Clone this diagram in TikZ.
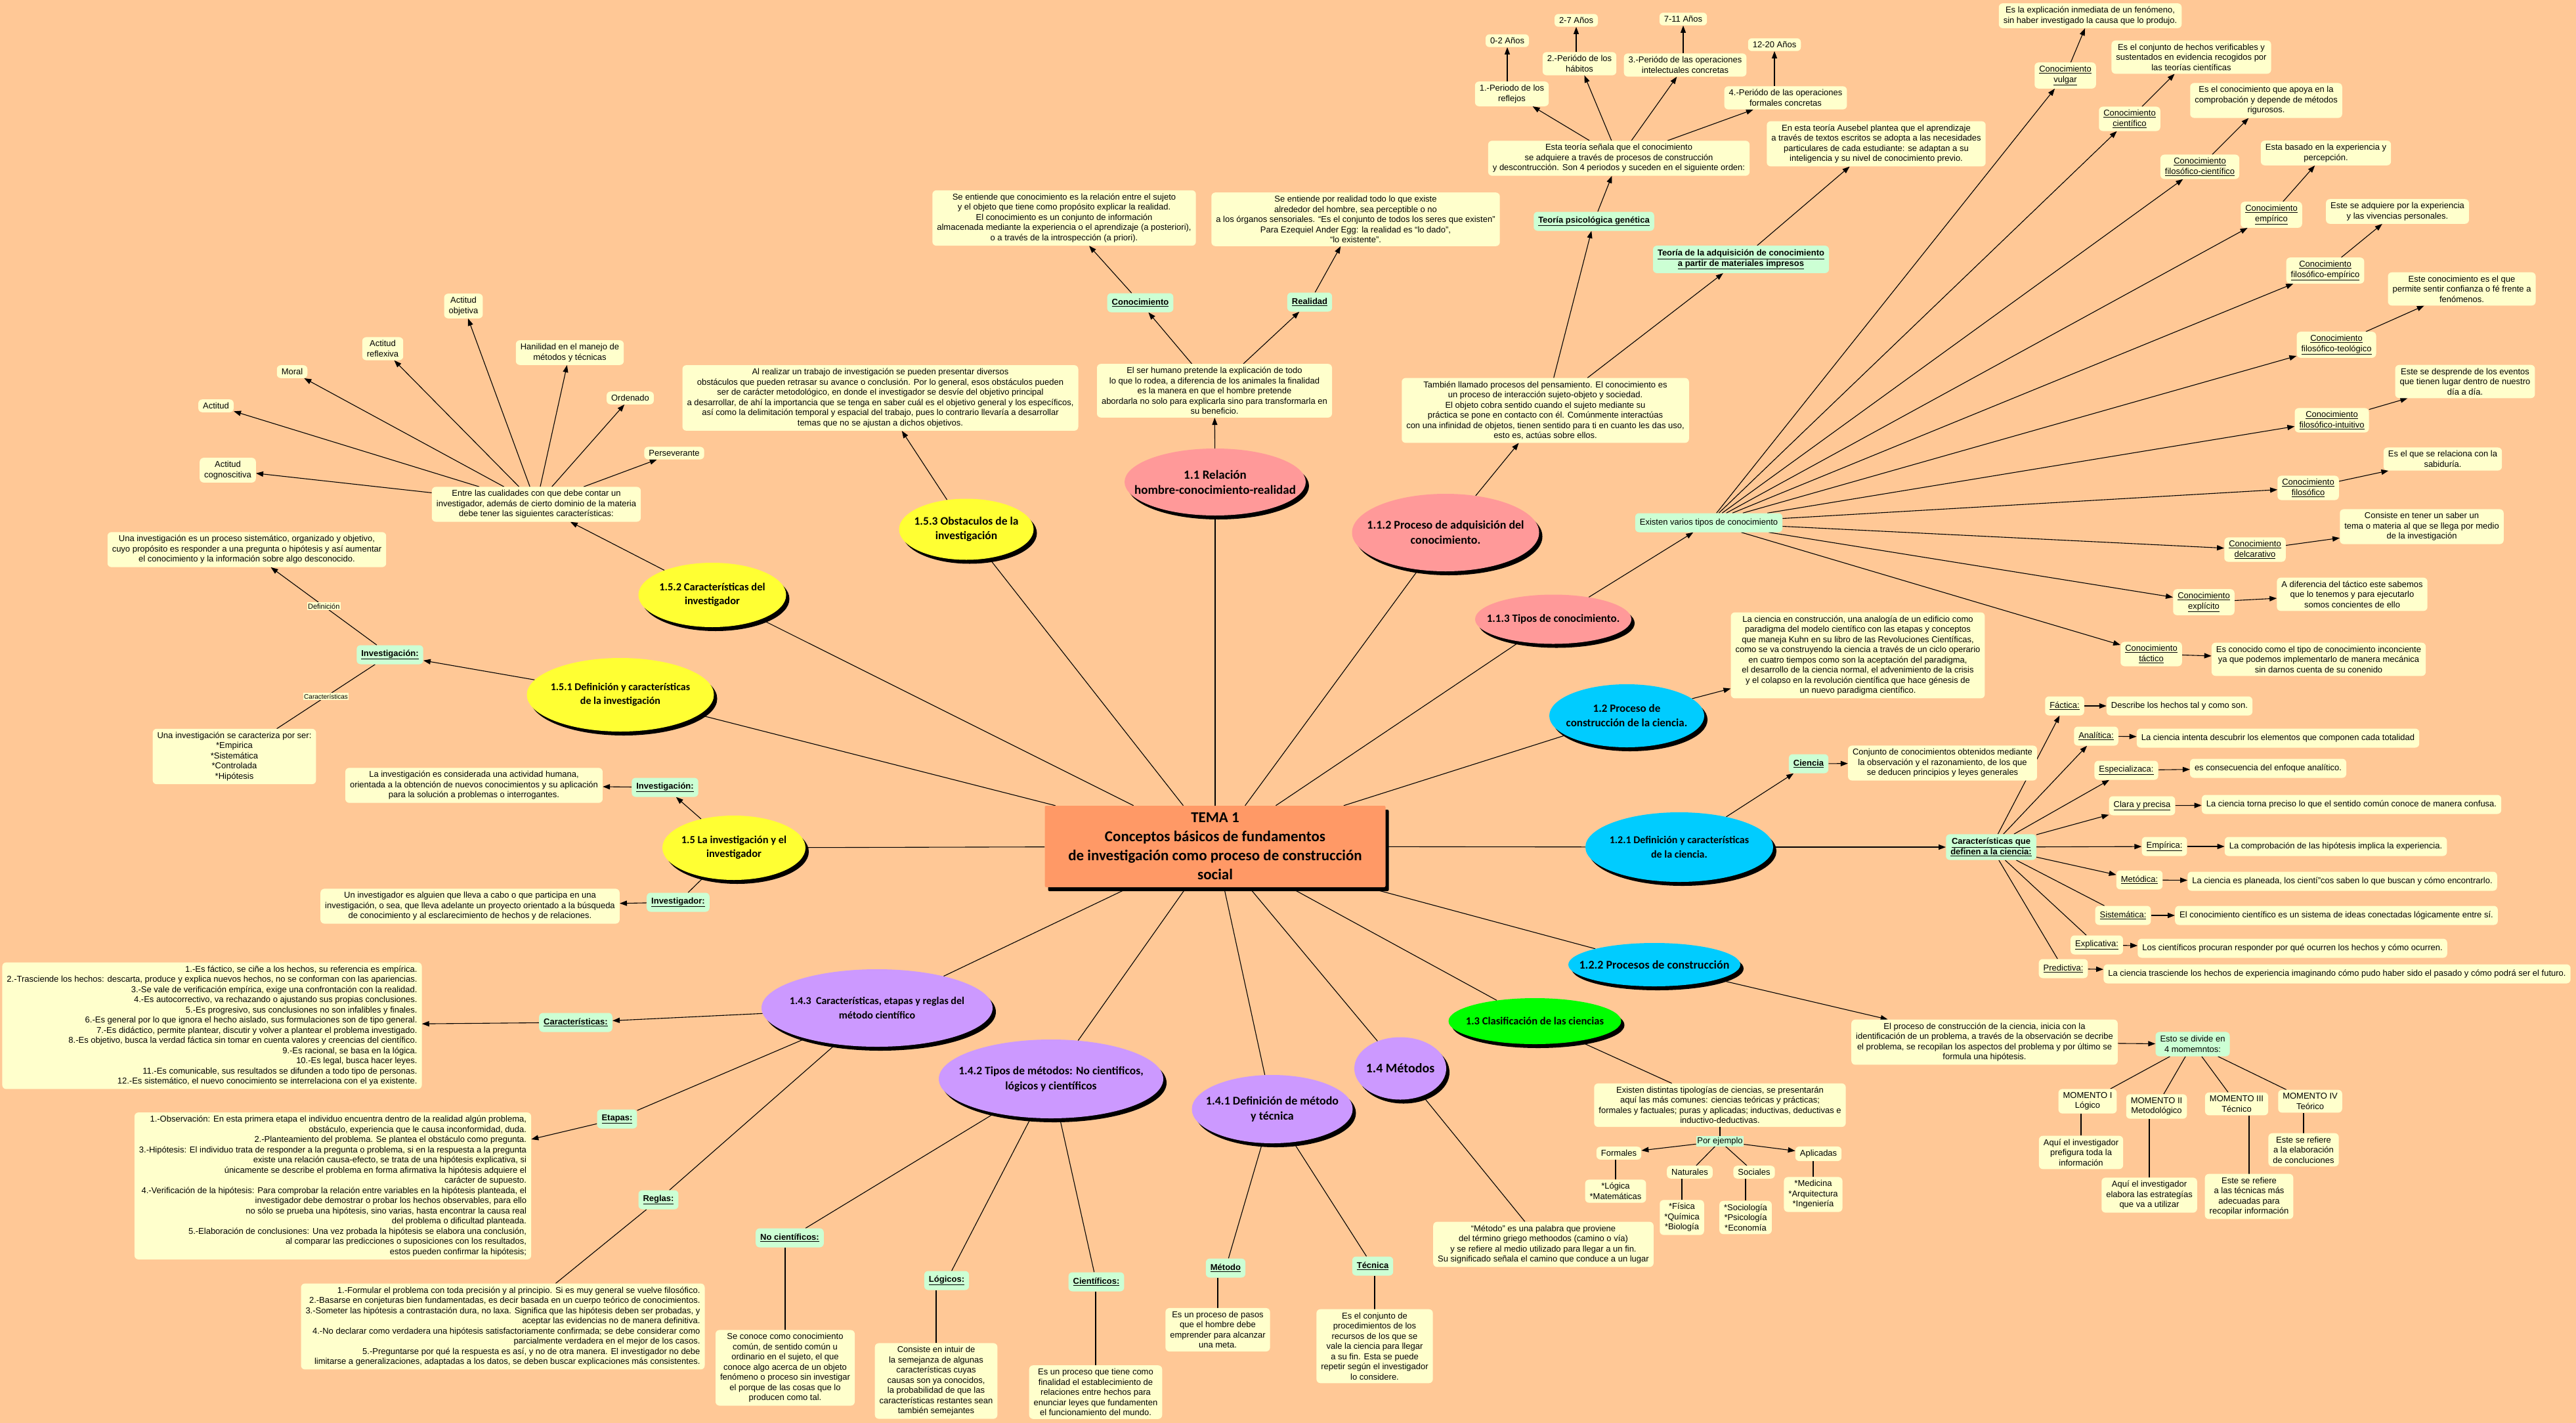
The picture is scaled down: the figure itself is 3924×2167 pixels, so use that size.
\documentclass[tikz,border=0pt]{standalone}
\usepackage{fontspec}
\setmainfont{Liberation Sans}
\newfontfamily\bubfont{Carlito}
\usetikzlibrary{arrows.meta,shapes.geometric,shadows}
\definecolor{bgpeach}{RGB}{255,200,150}
\definecolor{byellow}{RGB}{255,255,204}
\definecolor{bgreen}{RGB}{204,255,212}
\definecolor{bpink}{RGB}{255,153,153}
\definecolor{byel}{RGB}{255,255,51}
\definecolor{bcyan}{RGB}{0,204,255}
\definecolor{bgrn}{RGB}{0,255,0}
\definecolor{bviolet}{RGB}{204,153,255}
\definecolor{borange}{RGB}{255,153,102}
\newcommand{\myul}[1]{\underline{#1}}
\pgfdeclarelayer{bglayer}
\pgfdeclarelayer{edgelayer}
\pgfsetlayers{bglayer,edgelayer,main}
\tikzset{
 box/.style={fill=byellow, rounded corners=6pt, inner xsep=7pt, inner ysep=5pt, align=center, font=\fontsize{13}{15.5}\selectfont},
 rbox/.style={box, align=right},
 tbox/.style={box, minimum height=29pt},
 gbox/.style={fill=bgreen, rounded corners=6pt, inner xsep=7pt, inner ysep=6pt, minimum height=29pt, align=center, font=\bfseries\fontsize{13}{15.5}\selectfont},
 gplain/.style={gbox, font=\fontsize{13}{15.5}\selectfont},
 bubble/.style={ellipse, inner sep=0pt, drop shadow={shadow xshift=5pt,shadow yshift=-6pt,opacity=1,fill=black}},
 ln/.style={draw=black, line width=1.1pt},
 arr/.style={ln, -{Triangle[length=11pt,width=8pt]}},
 elab/.style={fill=byellow, inner sep=1.5pt, font=\fontsize{11}{12}\selectfont},
}
\newcommand{\mkbub}[8]{%
 \node[bubble, fill=#6, minimum width=#4pt, minimum height=#5pt] (#1) at (#2,#3) {};
 \node[align=center, font=\bubfont\bfseries\fontsize#7\selectfont] at (#1.center) {#8};}
\begin{document}
\begin{tikzpicture}[x=1pt,y=-1pt]
\begin{pgfonlayer}{bglayer}
\fill[bgpeach] (0,0) rectangle (3924,2167);
\end{pgfonlayer}
\useasboundingbox (0,0) rectangle (3924,2167);

% ---------- center ----------
\node[fill=borange, rounded corners=2pt, minimum width=519pt, minimum height=124pt, align=center,
 drop shadow={shadow xshift=5pt,shadow yshift=-6pt,opacity=1,fill=black},
 font=\bubfont\bfseries\fontsize{23}{29}\selectfont] (c) at (1851,1289)
 {TEMA 1\\Conceptos básicos de fundamentos\\de investigación como proceso de construcción\\social};

% ---------- 1.5.2 ----------
\node[box] (obj) at (706,466) {Actitud\\objetiva};
\node[box] (refl) at (583,531) {Actitud\\reflexiva};
\node[box] (moral) at (445,566) {Moral};
\node[box] (act) at (329,618) {Actitud};
\node[box] (hab) at (868,537) {Hanilidad en el manejo de\\métodos y técnicas};
\node[box] (ord) at (960,606) {Ordenado};
\node[box] (pers) at (1027,690) {Perseverante};
\node[box] (cog) at (347,716) {Actitud\\cognoscitiva};
\node[box] (entre) at (817,768) {Entre las cualidades con que debe contar un\\investigador, además de cierto dominio de la materia\\debe tener las siguientes características:};
\mkbub{b152}{1085}{906}{225}{98}{byel}{{16.5}{21}}{1.5.2 Características del\\investigador}

% ---------- 1.5.1 ----------
\node[box] (defi) at (376,837) {Una investigación es un proceso sistemático, organizado y objetivo,\\cuyo propósito es responder a una pregunta o hipótesis y así aumentar\\el conocimiento y la información sobre algo desconocido.};
\node[gbox] (inv1) at (594,997) {\myul{Investigación:}};
\node[box] (carac) at (357,1152) {Una investigación se caracteriza por ser:\\*Empirica\\*Sistemática\\*Controlada\\*Hipótesis};
\mkbub{b151}{945}{1058}{285}{112}{byel}{{16}{21}}{1.5.1 Definición y características\\de la investigación}

% ---------- 1.5 ----------
\node[box] (inv2t) at (722,1196) {La investigación es considerada una actividad humana,\\orientada a la obtención de nuevos conocimientos y su aplicación\\para la solución a problemas o interrogantes.};
\node[gbox] (inv2) at (1013,1199) {\myul{Investigación:}};
\mkbub{b15}{1118}{1291}{218}{98}{byel}{{16.5}{21}}{1.5 La investigación y el\\investigador}
\node[gbox] (invr) at (1033,1374) {\myul{Investigador:}};
\node[box] (invrt) at (716,1380) {Un investigador es alguien que lleva a cabo o que participa en una\\investigación, o sea, que lleva adelante un proyecto orientado a la búsqueda\\de conocimiento y al esclarecimiento de hechos y de relaciones.};

% ---------- 1.5.3 ----------
\node[box] (obs) at (1341,606) {Al realizar un trabajo de investigación se pueden presentar diversos\\obstáculos que pueden retrasar su avance o conclusión. Por lo general, esos obstáculos pueden\\ser de carácter metodológico, en donde el investigador se desvíe del objetivo principal\\a desarrollar, de ahí la importancia que se tenga en saber cuál es el objetivo general y los específicos,\\así como la delimitación temporal y espacial del trabajo, pues lo contrario llevaría a desarrollar\\temas que no se ajustan a dichos objetivos.};
\mkbub{b153}{1472}{806}{205}{93}{byel}{{17.5}{22}}{1.5.3 Obstaculos de la\\investigación}

% ---------- 1.1 ----------
\node[box] (conoct) at (1621,332) {Se entiende que conocimiento es la relación entre el sujeto\\y el objeto que tiene como propósito explicar la realidad.\\El conocimiento es un conjunto de información\\almacenada mediante la experiencia o el aprendizaje (a posteriori),\\o a través de la introspección (a priori).};
\node[gbox] (conoc) at (1737,461) {\myul{Conocimiento}};
\node[box] (realt) at (2065,334) {Se entiende por realidad todo lo que existe\\alrededor del hombre, sea perceptible o no\\a los órganos sensoriales. “Es el conjunto de todos los seres que existen”\\Para Ezequiel Ander Egg: la realidad es “lo dado”,\\“lo existente”.};
\node[gbox] (real) at (1995,460) {\myul{Realidad}};
\node[box] (ser) at (1850,595) {El ser humano pretende la explicación de todo\\lo que lo rodea, a diferencia de los animales la finalidad\\es la manera en que el hombre pretende\\abordarla no solo para explicarla sino para transformarla en\\su beneficio.};
\mkbub{b11}{1851}{734}{276}{102}{bpink}{{19}{23}}{1.1 Relación\\hombre-conocimiento-realidad}

% ---------- 1.1.2 ----------
\node[box] (y1) at (2296,62) {0-2 Años};
\node[box] (y2) at (2401,31) {2-7 Años};
\node[box] (y3) at (2564,29) {7-11 Años};
\node[box] (y4) at (2703,68) {12-20 Años};
\node[box] (p1) at (2303,143) {1.-Periodo de los\\reflejos};
\node[box] (p2) at (2406,97) {2.-Periódo de los\\hábitos};
\node[box] (p3) at (2567,99) {3.-Periódo de las operaciones\\intelectuales concretas};
\node[box] (p4) at (2720,149) {4.-Periódo de las operaciones\\formales concretas};
\node[box] (esta) at (2466,241) {Esta teoría señala que el conocimiento\\se adquiere a través de procesos de construcción\\y descontrucción. Son 4 periodos y suceden en el siguiente orden:};
\node[gbox] (tpg) at (2428,337) {\myul{Teoría psicológica genética}};
\node[gbox] (tad) at (2652,395) {\myul{Teoría de la adquisición de conocimiento}\\\myul{a partir de materiales impresos}};
\node[box] (aus) at (2858,219) {En esta teoría Ausebel plantea que el aprendizaje\\a través de textos escritos se adopta a las necesidades\\particulares de cada estudiante: se adaptan a su\\inteligencia y su nivel de conocimiento previo.};
\node[box] (tamb) at (2354,625) {También llamado procesos del pensamiento. El conocimiento es\\un proceso de interacción sujeto-objeto y sociedad.\\El objeto cobra sentido cuando el sujeto mediante su\\práctica se pone en contacto con él. Comúnmente interactúas\\con una infinidad de objetos, tienen sentido para ti en cuanto les das uso,\\esto es, actúas sobre ellos.};
\mkbub{b112}{2202}{811}{285}{118}{bpink}{{18}{23}}{1.1.2 Proceso de adquisición del\\conocimiento.}

% ---------- 1.1.3 ----------
\mkbub{b113}{2366}{943}{238}{75}{bpink}{{17}{21}}{1.1.3 Tipos de conocimiento.}
\node[gplain] (exist) at (2603,796) {Existen varios tipos de conocimiento};
\node[box] (t1) at (3146,115) {\myul{Conocimiento}\\\myul{vulgar}};
\node[box] (d1) at (3184,24) {Es la explicación inmediata de un fenómeno,\\sin haber investigado la causa que lo produjo.};
\node[box] (t2) at (3244,181) {\myul{Conocimiento}\\\myul{científico}};
\node[box] (d2) at (3338,87) {Es el conjunto de hechos verificables y\\sustentados en evidencia recogidos por\\las teorías científicas};
\node[box] (t3) at (3351,254) {\myul{Conocimiento}\\\myul{filosófico-científico}};
\node[box] (d3) at (3452,153) {Es el conocimiento que apoya en la\\comprobación y depende de métodos\\rigurosos.};
\node[box] (t4) at (3460,327) {\myul{Conocimiento}\\\myul{empírico}};
\node[box] (d4) at (3543,233) {Esta basado en la experiencia y\\percepción.};
\node[box] (t5) at (3542,412) {\myul{Conocimiento}\\\myul{filosófico-empírico}};
\node[box] (d5) at (3652,322) {Este se adquiere por la experiencia\\y las vivencias personales.};
\node[box] (t6) at (3559,525) {\myul{Conocimiento}\\\myul{filosófico-teológico}};
\node[box] (d6) at (3750,440) {Este conocimiento es el que\\permite sentir confianza o fé frente a\\fenómenos.};
\node[box] (t7) at (3552,640) {\myul{Conocimiento}\\\myul{filosófico-intuitivo}};
\node[box] (d7) at (3755,581) {Este se desprende de los eventos\\que tienen lugar dentro de nuestro\\día a día.};
\node[box] (t8) at (3516,743) {\myul{Conocimiento}\\\myul{filosófico}};
\node[box] (d8) at (3721,699) {Es el que se relaciona con la\\sabiduría.};
\node[box] (t9) at (3435,837) {\myul{Conocimiento}\\\myul{delcarativo}};
\node[box] (d9) at (3689,802) {Consiste en tener un saber un\\tema o materia al que se llega por medio\\de la investigación};
\node[box] (t10) at (3357,917) {\myul{Conocimiento}\\\myul{explícito}};
\node[box] (d10) at (3583,905) {A diferencia del táctico este sabemos\\que  lo tenemos y para ejecutarlo\\somos concientes de ello};
\node[box] (t11) at (3277,996) {\myul{Conocimiento}\\\myul{táctico}};
\node[box] (d11) at (3532,1004) {Es conocido como el tipo de conocimiento inconciente\\ya que podemos implementarlo de manera mecánica\\sin darnos cuenta de su conenido};

% ---------- 1.2 ----------
\mkbub{b12}{2478}{1090}{236}{96}{bcyan}{{17}{22}}{1.2 Proceso de\\construcción de la ciencia.}
\node[box] (kuhn) at (2830,998) {La ciencia en construcción, una analogía de un edificio como\\paradigma del modelo científico con las etapas y conceptos\\que maneja Kuhn en su libro de las Revoluciones Científicas,\\como se va construyendo la ciencia a través de un ciclo operario\\en cuatro tiempos como son la aceptación del paradigma,\\el desarrollo de la ciencia normal, el advenimiento de la crisis\\y el colapso en la revolución científica que hace génesis de\\un nuevo paradigma científico.};

% ---------- 1.2.1 ----------
\mkbub{b121}{2558}{1290}{286}{106}{bcyan}{{16}{22}}{1.2.1 Definición y características\\de la ciencia.}
\node[gbox] (cien) at (2755,1163) {\myul{Ciencia}};
\node[box] (conj) at (2959,1162) {Conjunto de conocimientos obtenidos mediante\\la observación y el razonamiento, de los que\\se deducen principios y leyes generales};
\node[gbox] (cdef) at (3033,1290) {\myul{Características que}\\\myul{definen a la ciencia:}};
\node[tbox] (f1) at (3145,1075) {\myul{Fáctica:}};
\node[tbox] (fd1) at (3320,1075) {Describe los hechos tal y como son.};
\node[tbox] (f2) at (3193,1121) {\myul{Analítica:}};
\node[tbox] (fd2) at (3470,1124) {La ciencia intenta descubrir los elementos que componen cada totalidad};
\node[tbox] (f3) at (3239,1173) {\myul{Especializaca:}};
\node[tbox] (fd3) at (3455,1170) {es consecuencia del enfoque analítico.};
\node[tbox] (f4) at (3263,1227) {\myul{Clara y precisa}};
\node[tbox] (fd4) at (3582,1225) {La ciencia torna preciso lo que el sentido común conoce de manera confusa.};
\node[tbox] (f5) at (3297,1289) {\myul{Empírica:}};
\node[tbox] (fd5) at (3558,1289) {La comprobación de las hipótesis implica la experiencia.};
\node[tbox] (f6) at (3259,1340) {\myul{Metódica:}};
\node[tbox] (fd6) at (3568,1342) {La ciencia es planeada, los cientí”cos saben lo que buscan y cómo encontrarlo.};
\node[tbox] (f7) at (3234,1394) {\myul{Sistemática:}};
\node[tbox] (fd7) at (3559,1394) {El conocimiento científico es un sistema de ideas conectadas lógicamente entre sí.};
\node[tbox] (f8) at (3194,1439) {\myul{Explicativa:}};
\node[tbox] (fd8) at (3492,1444) {Los científicos procuran responder por qué ocurren los hechos y cómo ocurren.};
\node[tbox] (f9) at (3143,1475) {\myul{Predictiva:}};
\node[tbox] (fd9) at (3560,1483) {La ciencia trasciende los hechos de experiencia imaginando cómo pudo haber sido el pasado y cómo podrá ser el futuro.};

% ---------- 1.2.2 ----------
\mkbub{b122}{2520}{1469}{262}{66}{bcyan}{{18}{22}}{1.2.2 Procesos de construcción}
\node[box] (proc) at (3023,1587) {El proceso de construcción de la ciencia, inicia con la\\identificación de un problema, a través de la observación se decribe\\el problema, se recopilan los aspectos del problema y por último se\\formula una hipótesis.};
\node[gplain] (esto) at (3340,1590) {Esto se divide en\\4 momemntos:};
\node[box] (m1) at (3180,1677) {MOMENTO I\\Lógico};
\node[box] (m2) at (3285,1685) {MOMENTO II\\Metodológico};
\node[box] (m3) at (3407,1681) {MOMENTO III\\Técnico};
\node[box] (m4) at (3519,1677) {MOMENTO IV\\Teórico};
\node[box] (md1) at (3170,1755) {Aquí el investigador\\prefigura toda la\\información};
\node[box] (md2) at (3274,1820) {Aquí el investigador\\elabora las estrategías\\que va a utilizar};
\node[box] (md3) at (3426,1822) {Este se refiere\\a las técnicas más\\adecuadas para\\recopilar información};
\node[box] (md4) at (3509,1751) {Este se refiere\\a la elaboración\\de concluciones};

% ---------- 1.3 ----------
\mkbub{b13}{2338}{1555}{263}{70}{bgrn}{{16.5}{21}}{1.3 Clasificación de las ciencias}
\node[box] (tipol) at (2620,1683) {Existen distintas tipologías de ciencias, se presentarán\\aquí las más comunes: ciencias teóricas y prácticas;\\formales y factuales; puras y aplicadas; inductivas, deductivas e\\inductivo-deductivas.};
\node[fill=bgreen, inner sep=1.5pt, font=\fontsize{13}{15}\selectfont] (pe) at (2620,1738) {Por ejemplo};
\node[box] (form) at (2466,1756) {Formales};
\node[box] (apli) at (2770,1757) {Aplicadas};
\node[box] (natu) at (2574,1785) {Naturales};
\node[box] (soci) at (2672,1785) {Sociales};
\node[box] (forml) at (2461,1814) {*Lógica\\*Matemáticas};
\node[box] (natul) at (2562,1854) {*Física\\*Química\\*Biología};
\node[box] (socil) at (2659,1854) {*Sociología\\*Psicología\\*Economía};
\node[box] (apli2) at (2762,1819) {*Medicina\\*Arquitectura\\*Ingeniería};

% ---------- 1.4 ----------
\mkbub{b14}{2133}{1627}{140}{95}{bviolet}{{20}{24}}{1.4 Métodos}
\node[box] (metodo) at (2351,1895) {“Método” es una palabra que proviene\\del término griego methoodos (camino o vía)\\y se refiere al medio utilizado para llegar a un fin.\\Su significado señala el camino que conduce a un lugar};

% ---------- 1.4.1 ----------
\mkbub{b141}{1938}{1689}{245}{104}{bviolet}{{18}{23}}{1.4.1 Definición de método\\y técnica}
\node[gbox] (gmet) at (1867,1931) {\myul{Método}};
\node[box] (nmet) at (1855,2025) {Es un proceso de pasos\\que el hombre debe\\emprender para alcanzar\\una meta.};
\node[gbox] (gtec) at (2091,1928) {\myul{Técnica}};
\node[box] (ntec) at (2094,2050) {Es el conjunto de\\procedimientos de los\\recursos de los que se\\vale la ciencia para llegar\\a su fin. Esta se puede\\repetir según el investigador\\lo considere.};

% ---------- 1.4.2 ----------
\mkbub{b142}{1601}{1643}{342}{120}{bviolet}{{17.5}{23}}{1.4.2 Tipos de métodos: No cientificos,\\lógicos y científicos}
\node[gbox] (gnc) at (1203,1885) {\myul{No científicos:}};
\node[box] (nnc) at (1196,2083) {Se conoce como conocimiento\\común, de sentido común u\\ordinario en el sujeto, el que\\conoce algo acerca de un objeto\\fenómeno o proceso sin investigar\\el porque de las cosas que lo\\producen como tal.};
\node[gbox] (glog) at (1442,1950) {\myul{Lógicos:}};
\node[box] (nlog) at (1426,2103) {Consiste en intuir de\\la semejanza de algunas\\características cuyas\\causas son ya conocidos,\\la probabilidad de que las\\características restantes sean\\también semejantes};
\node[gbox] (gcie) at (1670,1952) {\myul{Científicos:}};
\node[box] (ncie) at (1669,2120) {Es un proceso que tiene como\\finalidad el establecimiento de\\relaciones entre hechos para\\enunciar leyes que fundamenten\\el funcionamiento del mundo.};

% ---------- 1.4.3 ----------
\mkbub{b143}{1336}{1535}{352}{118}{bviolet}{{16}{22}}{1.4.3\ \ Características, etapas y reglas del\\método científico}
\node[gbox] (gcar) at (877,1557) {\myul{Características:}};
\node[rbox] (ncar) at (323,1562) {1.-Es fáctico, se ciñe a los hechos, su referencia es empírica.\\2.-Trasciende los hechos: descarta, produce y explica nuevos hechos, no se conforman con las apariencias.\\3.-Se vale de verificación empírica, exige una confrontación con la realidad.\\4.-Es autocorrectivo, va rechazando o ajustando sus propias conclusiones.\\5.-Es progresivo, sus conclusiones no son infalibles y finales.\\6.-Es general por lo que ignora el hecho aislado, sus formulaciones son de tipo general.\\7.-Es didáctico, permite plantear, discutir y volver a plantear el problema investigado.\\8.-Es objetivo, busca la verdad fáctica sin tomar en cuenta valores y creencias del científico.\\9.-Es racional, se basa en la lógica.\\10.-Es legal, busca hacer leyes.\\11.-Es comunicable, sus resultados se difunden a todo tipo de personas.\\12.-Es sistemático, el nuevo conocimiento se interrelaciona con el ya existente.};
\node[gbox] (geta) at (940,1704) {\myul{Etapas:}};
\node[rbox] (neta) at (507,1806) {1.-Observación: En esta primera etapa el individuo encuentra dentro de la realidad algún problema,\\obstáculo, experiencia que le causa inconformidad, duda.\\2.-Planteamiento del problema. Se plantea el obstáculo como pregunta.\\3.-Hipótesis: El individuo trata de responder a la pregunta o problema, si en la respuesta a la pregunta\\existe una relación causa-efecto, se trata de una hipótesis explicativa, si\\únicamente se describe el problema en forma afirmativa la hipótesis adquiere el\\carácter de supuesto.\\4.-Verificación de la hipótesis: Para comprobar la relación entre variables en la hipótesis planteada, el\\investigador debe demostrar o probar los hechos observables, para ello\\no sólo se prueba una hipótesis, sino varias, hasta encontrar la causa real\\del problema o dificultad planteada.\\5.-Elaboración de conclusiones: Una vez probada la hipótesis se elabora una conclusión,\\al comparar las predicciones o suposiciones con los resultados,\\estos pueden confirmar la hipótesis;};
\node[gbox] (greg) at (1003,1827) {\myul{Reglas:}};
\node[rbox] (nreg) at (766,2020) {1.-Formular el problema con toda precisión y al principio. Si es muy general se vuelve filosófico.\\2.-Basarse en conjeturas bien fundamentadas, es decir basada en un cuerpo teórico de conocimientos.\\3.-Someter las hipótesis a contrastación dura, no laxa. Significa que las hipótesis deben ser probadas, y\\aceptar las evidencias no de manera definitiva.\\4.-No declarar como verdadera una hipótesis satisfactoriamente confirmada; se debe considerar como\\parcialmente verdadera en el mejor de los casos.\\5.-Preguntarse por qué la respuesta es así, y no de otra manera. El investigador no debe\\limitarse a generalizaciones, adaptadas a los datos, se deben buscar explicaciones más consistentes.};

% ================= connectors =================
\begin{pgfonlayer}{edgelayer}
% center spokes
\foreach \b in {b152,b151,b15,b153,b11,b112,b113,b12,b121,b122,b13,b14,b141,b142,b143}
  \draw[ln] (\b) -- (c);
% 1.5.2
\foreach \t in {obj,refl,moral,act,hab,ord,pers,cog}
  \draw[arr] (entre) -- (\t);
\draw[arr] (b152) -- (entre);
% 1.5.1
\draw[arr] (b151) -- (inv1);
\draw[arr] (inv1) -- node[elab] {Definición} (defi);
\draw[ln] (inv1) -- node[elab, font=\fontsize{10}{11}\selectfont] {Características} (carac);
% 1.5
\draw[arr] (b15) -- (inv2);
\draw[arr] (inv2) -- (inv2t);
\draw[ln] (b15) -- (invr);
\draw[arr] (invr) -- (invrt);
% 1.5.3
\draw[arr] (b153) -- (obs);
% 1.1
\draw[arr] (b11) -- (ser);
\draw[arr] (ser) -- (conoc);
\draw[arr] (conoc) -- (conoct);
\draw[arr] (ser) -- (real);
\draw[arr] (real) -- (realt);
% 1.1.2
\draw[arr] (b112) -- (tamb);
\draw[arr] (tamb) -- (tpg);
\draw[arr] (tamb) -- (tad);
\draw[arr] (tpg) -- (esta);
\draw[arr] (tad) -- (aus);
\foreach \p in {p1,p2,p3,p4} \draw[arr] (esta) -- (\p);
\draw[arr] (p1.north -| y1.south) -- (y1.south);
\draw[arr] (p2.north -| y2.south) -- (y2.south);
\draw[arr] (p3.north -| y3.south) -- (y3.south);
\draw[arr] (p4.north -| y4.south) -- (y4.south);
% 1.1.3
\draw[arr] (b113) -- (exist);
\foreach \i in {1,...,11} {
  \draw[arr] (exist) -- (t\i);
  \draw[arr] (t\i) -- (d\i);
}
% 1.2
\draw[arr] (b12) -- (kuhn);
% 1.2.1
\draw[arr] (b121) -- (cien);
\draw[arr] (cien) -- (conj);
\draw[arr] (b121) -- (cdef);
\foreach \i in {1,...,6} \draw[arr] (cdef) -- (f\i);
\foreach \i in {7,8,9} \draw[ln] (cdef) -- (f\i);
\foreach \i in {1,...,9} \draw[arr] (f\i) -- (fd\i);
% 1.2.2
\draw[arr] (b122) -- (proc);
\draw[arr] (proc) -- (esto);
\foreach \i in {1,...,4} {
  \draw[ln] (esto) -- (m\i);
  \draw[ln] (m\i.south -| md\i.north) -- (md\i.north);
}
% 1.3
\draw[ln] (b13) -- (tipol);
\draw[ln] (tipol) -- (pe);
\draw[arr] (pe) -- (form);
\draw[arr] (pe) -- (apli);
\draw[ln] (pe) -- (natu);
\draw[ln] (pe) -- (soci);
\draw[ln] (form.south -| forml.north) -- (forml.north);
\draw[ln] (natu.south -| natul.north) -- (natul.north);
\draw[ln] (soci.south -| socil.north) -- (socil.north);
\draw[ln] (apli.south -| apli2.north) -- (apli2.north);
% 1.4
\draw[ln] (b14) -- (metodo);
% 1.4.1
\draw[ln] (b141) -- (gmet);
\draw[ln] (b141) -- (gtec);
\draw[ln] (gmet.south -| nmet.north) -- (nmet.north);
\draw[ln] (gtec.south -| ntec.north) -- (ntec.north);
% 1.4.2
\draw[ln] (b142) -- (gnc);
\draw[ln] (b142) -- (glog);
\draw[ln] (b142) -- (gcie);
\draw[ln] (gnc.south -| nnc.north) -- (nnc.north);
\draw[ln] (glog.south -| nlog.north) -- (nlog.north);
\draw[ln] (gcie.south -| ncie.north) -- (ncie.north);
% 1.4.3
\draw[arr] (b143) -- (gcar);
\draw[arr] (gcar) -- (ncar);
\draw[ln] (b143) -- (geta);
\draw[arr] (geta) -- (neta);
\draw[ln] (b143) -- (greg);
\draw[ln] (greg) -- (nreg);
\end{pgfonlayer}
\end{tikzpicture}
\end{document}
